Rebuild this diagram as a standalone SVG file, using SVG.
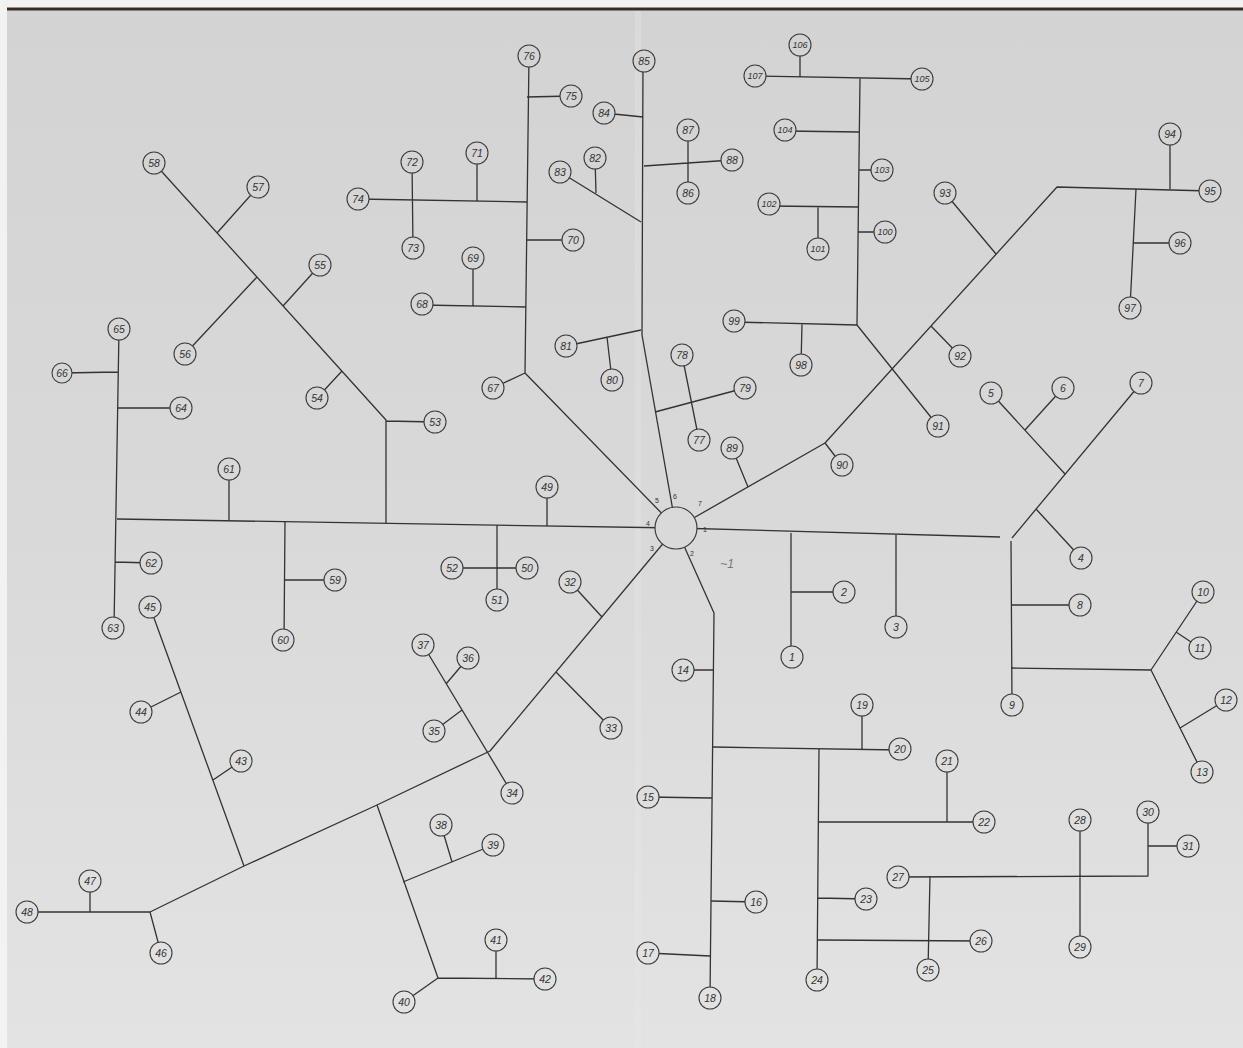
<svg xmlns="http://www.w3.org/2000/svg" width="1243" height="1048" viewBox="0 0 1243 1048">
<defs>
<linearGradient id="paper" gradientUnits="userSpaceOnUse" x1="0" y1="0" x2="0" y2="1048">
<stop offset="0" stop-color="#d3d3d3"/>
<stop offset="0.5" stop-color="#d9d9d9"/>
<stop offset="1" stop-color="#e3e3e3"/>
</linearGradient>
<style>
.c path{stroke:#333;stroke-width:1.3;fill:none;stroke-linejoin:round}
.n circle{fill:url(#paper);stroke:#3d3d3d;stroke-width:1.1}
.n text{font-family:"Liberation Sans",Arial,sans-serif;font-size:10.5px;font-style:italic;text-anchor:middle;dominant-baseline:central;fill:#333}
.n.w text{font-size:9px}
.hl{font-family:"Liberation Sans",Arial,sans-serif;font-size:7px;fill:#333;text-anchor:middle;dominant-baseline:central}
</style>
</defs>
<rect width="1243" height="1048" fill="#f2f2f2"/>
<rect x="7" y="9" width="1236" height="1039" fill="url(#paper)"/>
<line x1="7" y1="9" x2="1243" y2="9" stroke="#3a2c24" stroke-width="3"/>
<line x1="638" y1="11" x2="638" y2="1048" stroke="#eaeaea" stroke-width="6" opacity="0.3"/>

<g id="connectors" class="c">
<path d="M676 528 L1000 537"/>
<path d="M791 533 L791 657 M791 592 L844 592"/>
<path d="M896 535 L896 627"/>
<path d="M1012 538 L1141 383 M1036 509 L1081 558 M1065 474 L991 393 M1025 430 L1063 388"/>
<path d="M1011 541 L1012 705 M1011 605 L1080 605 M1011 668 L1151 670"/>
<path d="M1151 670 L1203 592 M1176 632 L1200 648 M1151 670 L1202 772 M1180 728 L1226 700"/>
<path d="M676 528 L714 613 L710 998"/>
<path d="M683 670 L714 670 M648 797 L712 798 M711 901 L756 902 M648 953 L710 956"/>
<path d="M713 747 L900 750 M862 705 L862 749"/>
<path d="M819 749 L817 980 M819 822 L984 822 M947 761 L947 822 M818 898 L866 899 M818 940 L981 941"/>
<path d="M898 877 L1148 876 L1148 812 M1148 846 L1188 846 M930 876 L928 970 M1080 820 L1080 947"/>
<path d="M676 528 L825 443 L1057 187 L1210 191"/>
<path d="M748 487 L732 448 M825 443 L842 465 M931 326 L960 356 M996 254 L945 193"/>
<path d="M1170 134 L1170 189 M1136 189 L1130 308 M1133 243 L1180 243"/>
<path d="M860 78 L857 325 M755 76 L922 79 M800 45 L800 77 M785 131 L860 132 M859 170 L882 170"/>
<path d="M769 206 L859 207 M818 207 L818 249 M858 232 L885 232 M734 322 L857 325 M802 324 L801 365 M857 325 L938 426"/>
<path d="M676 528 L642 335 L643 61"/>
<path d="M566 346 L641 330 M607 337 L612 380 M655 412 L745 388 M682 355 L699 440"/>
<path d="M560 172 L641 222 M596 193 L595 158 M604 113 L643 117 M644 166 L732 160 M688 130 L688 193"/>
<path d="M676 528 L525 373 L529 56 M525 373 L493 388"/>
<path d="M527 97 L571 96 M527 202 L358 199 M412 162 L413 248 M477 153 L477 201 M526 240 L573 240 M422 305 L526 307 M473 258 L473 306"/>
<path d="M676 528 L117 519"/>
<path d="M119 329 L114 628 M62 373 L118 372 M118 408 L181 408 M229 469 L229 520 M115 562 L151 563"/>
<path d="M285 522 L284 640 M285 580 L335 580 M547 487 L547 526 M497 525 L497 600 M452 568 L527 568"/>
<path d="M386 523 L386 420 L154 163 M386 421 L435 422 M342 371 L317 398 M283 306 L320 265 M257 277 L185 354 M217 233 L258 187"/>
<path d="M676 528 L490 751 L377 805 L244 866 L150 912 L27 912"/>
<path d="M602 617 L570 582 M556 672 L611 728"/>
<path d="M423 645 L512 793 M446 684 L468 658 M462 710 L434 731"/>
<path d="M377 805 L438 978 L545 979 M438 978 L404 1002 M496 940 L496 978 M403 882 L493 845 M441 825 L452 862"/>
<path d="M244 866 L150 607 M181 692 L141 712 M213 780 L241 761 M150 912 L161 953 M90 912 L90 881"/>
</g>

<g id="hub">
<circle cx="676" cy="528" r="21" fill="url(#paper)" stroke="#3d3d3d" stroke-width="1.2"/>
<text class="hl" x="705" y="529">1</text>
<text class="hl" x="692" y="553">2</text>
<text class="hl" x="652" y="548">3</text>
<text class="hl" x="648" y="523">4</text>
<text class="hl" x="657" y="500">5</text>
<text class="hl" x="675" y="496">6</text>
<text class="hl" x="700" y="503">7</text>
</g>
<text x="727" y="568" font-family="Liberation Sans, sans-serif" font-size="12" font-style="italic" fill="#777" text-anchor="middle">~1</text>

<g id="n1" class="n"><circle cx="792" cy="657" r="11"/><text x="792" y="657">1</text></g>
<g id="n2" class="n"><circle cx="844" cy="592" r="11"/><text x="844" y="592">2</text></g>
<g id="n3" class="n"><circle cx="896" cy="627" r="11"/><text x="896" y="627">3</text></g>
<g id="n4" class="n"><circle cx="1081" cy="558" r="11"/><text x="1081" y="558">4</text></g>
<g id="n5" class="n"><circle cx="991" cy="393" r="11"/><text x="991" y="393">5</text></g>
<g id="n6" class="n"><circle cx="1063" cy="388" r="11"/><text x="1063" y="388">6</text></g>
<g id="n7" class="n"><circle cx="1141" cy="383" r="11"/><text x="1141" y="383">7</text></g>
<g id="n8" class="n"><circle cx="1080" cy="605" r="11"/><text x="1080" y="605">8</text></g>
<g id="n9" class="n"><circle cx="1012" cy="705" r="11"/><text x="1012" y="705">9</text></g>
<g id="n10" class="n"><circle cx="1203" cy="592" r="11"/><text x="1203" y="592">10</text></g>
<g id="n11" class="n"><circle cx="1200" cy="648" r="11"/><text x="1200" y="648">11</text></g>
<g id="n12" class="n"><circle cx="1226" cy="700" r="11"/><text x="1226" y="700">12</text></g>
<g id="n13" class="n"><circle cx="1202" cy="772" r="11"/><text x="1202" y="772">13</text></g>
<g id="n14" class="n"><circle cx="683" cy="670" r="11"/><text x="683" y="670">14</text></g>
<g id="n15" class="n"><circle cx="648" cy="797" r="11"/><text x="648" y="797">15</text></g>
<g id="n16" class="n"><circle cx="756" cy="902" r="11"/><text x="756" y="902">16</text></g>
<g id="n17" class="n"><circle cx="648" cy="953" r="11"/><text x="648" y="953">17</text></g>
<g id="n18" class="n"><circle cx="710" cy="998" r="11"/><text x="710" y="998">18</text></g>
<g id="n19" class="n"><circle cx="862" cy="705" r="11"/><text x="862" y="705">19</text></g>
<g id="n20" class="n"><circle cx="900" cy="749" r="11"/><text x="900" y="749">20</text></g>
<g id="n21" class="n"><circle cx="947" cy="761" r="11"/><text x="947" y="761">21</text></g>
<g id="n22" class="n"><circle cx="984" cy="822" r="11"/><text x="984" y="822">22</text></g>
<g id="n23" class="n"><circle cx="866" cy="899" r="11"/><text x="866" y="899">23</text></g>
<g id="n24" class="n"><circle cx="817" cy="980" r="11"/><text x="817" y="980">24</text></g>
<g id="n25" class="n"><circle cx="928" cy="970" r="11"/><text x="928" y="970">25</text></g>
<g id="n26" class="n"><circle cx="981" cy="941" r="11"/><text x="981" y="941">26</text></g>
<g id="n27" class="n"><circle cx="898" cy="877" r="11"/><text x="898" y="877">27</text></g>
<g id="n28" class="n"><circle cx="1080" cy="820" r="11"/><text x="1080" y="820">28</text></g>
<g id="n29" class="n"><circle cx="1080" cy="947" r="11"/><text x="1080" y="947">29</text></g>
<g id="n30" class="n"><circle cx="1148" cy="812" r="11"/><text x="1148" y="812">30</text></g>
<g id="n31" class="n"><circle cx="1188" cy="846" r="11"/><text x="1188" y="846">31</text></g>
<g id="n32" class="n"><circle cx="570" cy="582" r="11"/><text x="570" y="582">32</text></g>
<g id="n33" class="n"><circle cx="611" cy="728" r="11"/><text x="611" y="728">33</text></g>
<g id="n34" class="n"><circle cx="512" cy="793" r="11"/><text x="512" y="793">34</text></g>
<g id="n35" class="n"><circle cx="434" cy="731" r="11"/><text x="434" y="731">35</text></g>
<g id="n36" class="n"><circle cx="468" cy="658" r="11"/><text x="468" y="658">36</text></g>
<g id="n37" class="n"><circle cx="423" cy="645" r="11"/><text x="423" y="645">37</text></g>
<g id="n38" class="n"><circle cx="441" cy="825" r="11"/><text x="441" y="825">38</text></g>
<g id="n39" class="n"><circle cx="493" cy="845" r="11"/><text x="493" y="845">39</text></g>
<g id="n40" class="n"><circle cx="404" cy="1002" r="11"/><text x="404" y="1002">40</text></g>
<g id="n41" class="n"><circle cx="496" cy="940" r="11"/><text x="496" y="940">41</text></g>
<g id="n42" class="n"><circle cx="545" cy="979" r="11"/><text x="545" y="979">42</text></g>
<g id="n43" class="n"><circle cx="241" cy="761" r="11"/><text x="241" y="761">43</text></g>
<g id="n44" class="n"><circle cx="141" cy="712" r="11"/><text x="141" y="712">44</text></g>
<g id="n45" class="n"><circle cx="150" cy="607" r="11"/><text x="150" y="607">45</text></g>
<g id="n46" class="n"><circle cx="161" cy="953" r="11"/><text x="161" y="953">46</text></g>
<g id="n47" class="n"><circle cx="90" cy="881" r="11"/><text x="90" y="881">47</text></g>
<g id="n48" class="n"><circle cx="27" cy="912" r="11"/><text x="27" y="912">48</text></g>
<g id="n49" class="n"><circle cx="547" cy="487" r="11"/><text x="547" y="487">49</text></g>
<g id="n50" class="n"><circle cx="527" cy="568" r="11"/><text x="527" y="568">50</text></g>
<g id="n51" class="n"><circle cx="497" cy="600" r="11"/><text x="497" y="600">51</text></g>
<g id="n52" class="n"><circle cx="452" cy="568" r="11"/><text x="452" y="568">52</text></g>
<g id="n53" class="n"><circle cx="435" cy="422" r="11"/><text x="435" y="422">53</text></g>
<g id="n54" class="n"><circle cx="317" cy="398" r="11"/><text x="317" y="398">54</text></g>
<g id="n55" class="n"><circle cx="320" cy="265" r="11"/><text x="320" y="265">55</text></g>
<g id="n56" class="n"><circle cx="185" cy="354" r="11"/><text x="185" y="354">56</text></g>
<g id="n57" class="n"><circle cx="258" cy="187" r="11"/><text x="258" y="187">57</text></g>
<g id="n58" class="n"><circle cx="154" cy="163" r="11"/><text x="154" y="163">58</text></g>
<g id="n59" class="n"><circle cx="335" cy="580" r="11"/><text x="335" y="580">59</text></g>
<g id="n60" class="n"><circle cx="283" cy="640" r="11"/><text x="283" y="640">60</text></g>
<g id="n61" class="n"><circle cx="229" cy="469" r="11"/><text x="229" y="469">61</text></g>
<g id="n62" class="n"><circle cx="151" cy="563" r="11"/><text x="151" y="563">62</text></g>
<g id="n63" class="n"><circle cx="113" cy="628" r="11"/><text x="113" y="628">63</text></g>
<g id="n64" class="n"><circle cx="181" cy="408" r="11"/><text x="181" y="408">64</text></g>
<g id="n65" class="n"><circle cx="119" cy="329" r="11"/><text x="119" y="329">65</text></g>
<g id="n66" class="n"><circle cx="62" cy="373" r="10"/><text x="62" y="373">66</text></g>
<g id="n67" class="n"><circle cx="493" cy="388" r="11"/><text x="493" y="388">67</text></g>
<g id="n68" class="n"><circle cx="422" cy="304" r="11"/><text x="422" y="304">68</text></g>
<g id="n69" class="n"><circle cx="473" cy="258" r="11"/><text x="473" y="258">69</text></g>
<g id="n70" class="n"><circle cx="573" cy="240" r="11"/><text x="573" y="240">70</text></g>
<g id="n71" class="n"><circle cx="477" cy="153" r="11"/><text x="477" y="153">71</text></g>
<g id="n72" class="n"><circle cx="412" cy="162" r="11"/><text x="412" y="162">72</text></g>
<g id="n73" class="n"><circle cx="413" cy="248" r="11"/><text x="413" y="248">73</text></g>
<g id="n74" class="n"><circle cx="358" cy="199" r="11"/><text x="358" y="199">74</text></g>
<g id="n75" class="n"><circle cx="571" cy="96" r="11"/><text x="571" y="96">75</text></g>
<g id="n76" class="n"><circle cx="529" cy="56" r="11"/><text x="529" y="56">76</text></g>
<g id="n77" class="n"><circle cx="699" cy="440" r="11"/><text x="699" y="440">77</text></g>
<g id="n78" class="n"><circle cx="682" cy="355" r="11"/><text x="682" y="355">78</text></g>
<g id="n79" class="n"><circle cx="745" cy="388" r="11"/><text x="745" y="388">79</text></g>
<g id="n80" class="n"><circle cx="612" cy="380" r="11"/><text x="612" y="380">80</text></g>
<g id="n81" class="n"><circle cx="566" cy="346" r="11"/><text x="566" y="346">81</text></g>
<g id="n82" class="n"><circle cx="595" cy="158" r="11"/><text x="595" y="158">82</text></g>
<g id="n83" class="n"><circle cx="560" cy="172" r="11"/><text x="560" y="172">83</text></g>
<g id="n84" class="n"><circle cx="604" cy="113" r="11"/><text x="604" y="113">84</text></g>
<g id="n85" class="n"><circle cx="644" cy="61" r="11"/><text x="644" y="61">85</text></g>
<g id="n86" class="n"><circle cx="688" cy="193" r="11"/><text x="688" y="193">86</text></g>
<g id="n87" class="n"><circle cx="688" cy="130" r="11"/><text x="688" y="130">87</text></g>
<g id="n88" class="n"><circle cx="732" cy="160" r="11"/><text x="732" y="160">88</text></g>
<g id="n89" class="n"><circle cx="732" cy="448" r="11"/><text x="732" y="448">89</text></g>
<g id="n90" class="n"><circle cx="842" cy="465" r="11"/><text x="842" y="465">90</text></g>
<g id="n91" class="n"><circle cx="938" cy="426" r="11"/><text x="938" y="426">91</text></g>
<g id="n92" class="n"><circle cx="960" cy="356" r="11"/><text x="960" y="356">92</text></g>
<g id="n93" class="n"><circle cx="945" cy="193" r="11"/><text x="945" y="193">93</text></g>
<g id="n94" class="n"><circle cx="1170" cy="134" r="11"/><text x="1170" y="134">94</text></g>
<g id="n95" class="n"><circle cx="1210" cy="191" r="11"/><text x="1210" y="191">95</text></g>
<g id="n96" class="n"><circle cx="1180" cy="243" r="11"/><text x="1180" y="243">96</text></g>
<g id="n97" class="n"><circle cx="1130" cy="308" r="11"/><text x="1130" y="308">97</text></g>
<g id="n98" class="n"><circle cx="801" cy="365" r="11"/><text x="801" y="365">98</text></g>
<g id="n99" class="n"><circle cx="734" cy="321" r="11"/><text x="734" y="321">99</text></g>
<g id="n100" class="n w"><circle cx="885" cy="232" r="11"/><text x="885" y="232">100</text></g>
<g id="n101" class="n w"><circle cx="818" cy="249" r="11"/><text x="818" y="249">101</text></g>
<g id="n102" class="n w"><circle cx="769" cy="204" r="11"/><text x="769" y="204">102</text></g>
<g id="n103" class="n w"><circle cx="882" cy="170" r="11"/><text x="882" y="170">103</text></g>
<g id="n104" class="n w"><circle cx="785" cy="130" r="11"/><text x="785" y="130">104</text></g>
<g id="n105" class="n w"><circle cx="922" cy="79" r="11"/><text x="922" y="79">105</text></g>
<g id="n106" class="n w"><circle cx="800" cy="45" r="11"/><text x="800" y="45">106</text></g>
<g id="n107" class="n w"><circle cx="755" cy="76" r="11"/><text x="755" y="76">107</text></g>
</svg>
